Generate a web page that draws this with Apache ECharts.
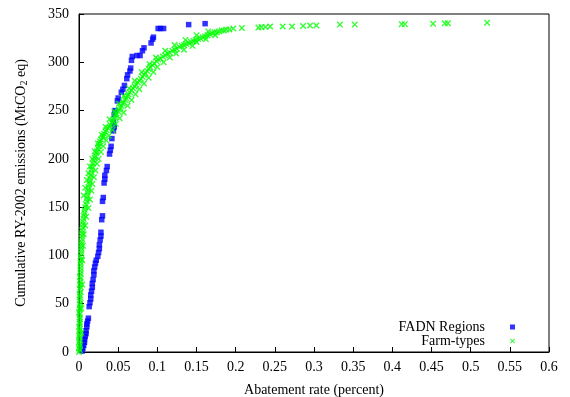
<!DOCTYPE html>
<html>
<head>
<meta charset="utf-8">
<script src="https://cdn.jsdelivr.net/npm/echarts@6/dist/echarts.min.js"></script>
<style>
  html, body { margin: 0; padding: 0; background: #fff; }
  #container { width: 570px; height: 397px; }
</style>
</head>
<body>
<div id="container"></div>
<script>
var dom = document.getElementById('container');
var myChart = echarts.init(dom, null, { renderer: 'canvas' });

// x tick labels (abatement rate) and y ticks
var xTicks = [0, 0.05, 0.1, 0.15, 0.2, 0.25, 0.3, 0.35, 0.4, 0.45, 0.5, 0.55, 0.6];
var yTicks = [0, 50, 100, 150, 200, 250, 300, 350];

// FADN Regions: [rate, cumulative emissions]
var fadnRegions = [
  [0.004, 1], [0.005, 4], [0.006, 7], [0.007, 10], [0.007, 13], [0.008, 16], [0.009, 19],
  [0.009, 22], [0.010, 26], [0.010, 29], [0.011, 32], [0.012, 35],
  [0.013, 47], [0.014, 51], [0.015, 55], [0.015, 59], [0.016, 63], [0.017, 67], [0.017, 71],
  [0.018, 75], [0.019, 80], [0.019, 84], [0.020, 88], [0.021, 92], [0.022, 95], [0.024, 99],
  [0.025, 103], [0.026, 107], [0.026, 111], [0.027, 116], [0.028, 120], [0.028, 124],
  [0.029, 137], [0.030, 141], [0.030, 156], [0.031, 160], [0.032, 175], [0.033, 179],
  [0.033, 183], [0.035, 188], [0.036, 192], [0.039, 205], [0.040, 209], [0.041, 213],
  [0.042, 221], [0.044, 229], [0.045, 233], [0.044, 238], [0.045, 246], [0.046, 250],
  [0.049, 260], [0.050, 263], [0.054, 269], [0.056, 272], [0.058, 276], [0.061, 283],
  [0.062, 287], [0.065, 291], [0.066, 294], [0.067, 302], [0.068, 306], [0.074, 307],
  [0.078, 307], [0.081, 312], [0.083, 315], [0.092, 320], [0.094, 324], [0.095, 326],
  [0.101, 335], [0.104, 335], [0.108, 335], [0.140, 339], [0.161, 340]
];

// Farm-types: [rate, cumulative emissions], main run of the curve
var farmTypes = [
  [0.000, 0], [0.001, 2], [0.000, 4], [0.001, 6], [0.001, 8], [0.000, 10], [0.001, 12],
  [0.001, 15], [0.000, 17], [0.001, 19], [0.001, 22], [0.001, 24], [0.000, 26], [0.001, 29],
  [0.001, 31], [0.001, 34], [0.001, 36], [0.001, 39], [0.000, 41], [0.001, 44], [0.001, 46],
  [0.001, 49], [0.002, 51], [0.001, 54], [0.001, 57], [0.001, 59], [0.002, 62], [0.001, 65],
  [0.002, 67], [0.001, 70], [0.002, 73], [0.002, 76], [0.001, 78], [0.002, 81], [0.002, 84],
  [0.002, 87], [0.002, 90], [0.002, 93], [0.003, 96], [0.002, 99], [0.003, 102], [0.003, 105],
  [0.003, 108], [0.003, 111], [0.003, 114], [0.004, 117], [0.004, 120], [0.004, 123],
  [0.004, 126], [0.005, 129], [0.005, 132], [0.005, 135], [0.006, 138], [0.006, 141],
  [0.007, 144], [0.007, 147], [0.008, 150], [0.009, 153], [0.010, 156], [0.010, 159],
  [0.011, 162], [0.011, 165], [0.012, 168], [0.012, 171], [0.013, 174], [0.014, 177],
  [0.014, 180], [0.015, 183], [0.016, 186], [0.016, 189], [0.017, 192], [0.018, 195],
  [0.019, 198], [0.020, 201],
  [0.021, 203], [0.022, 206], [0.023, 208], [0.024, 211], [0.025, 213], [0.026, 216],
  [0.027, 218], [0.028, 220], [0.030, 222], [0.031, 224], [0.032, 226], [0.034, 228],
  [0.035, 230], [0.037, 232], [0.039, 233], [0.040, 235], [0.042, 237], [0.043, 239],
  [0.044, 241], [0.046, 243], [0.047, 245], [0.048, 247], [0.050, 249], [0.051, 251],
  [0.053, 253], [0.054, 255], [0.056, 257], [0.057, 259], [0.059, 261], [0.060, 263],
  [0.062, 265], [0.063, 267], [0.065, 269], [0.067, 271], [0.069, 273], [0.071, 275],
  [0.073, 277], [0.075, 279], [0.077, 281], [0.079, 283], [0.081, 285], [0.083, 287],
  [0.085, 289], [0.087, 291], [0.089, 293], [0.091, 295], [0.094, 297], [0.096, 299],
  [0.099, 301], [0.101, 303],
  [0.104, 304], [0.107, 306], [0.110, 307], [0.113, 309], [0.116, 310], [0.119, 312],
  [0.122, 313], [0.125, 314], [0.128, 316], [0.131, 317], [0.134, 318], [0.137, 319],
  [0.140, 320], [0.143, 321], [0.146, 322], [0.149, 323], [0.152, 324], [0.155, 325],
  [0.158, 326], [0.161, 327], [0.164, 328], [0.167, 329], [0.170, 330], [0.173, 331],
  [0.176, 331], [0.179, 332], [0.182, 333], [0.185, 333], [0.188, 334], [0.192, 334],
  [0.197, 335], [0.208, 335.5],
  [0.229, 336], [0.233, 336.5], [0.238, 336.5], [0.244, 337], [0.260, 337], [0.272, 337],
  [0.286, 337.5], [0.295, 338], [0.303, 338], [0.333, 339], [0.352, 339], [0.412, 339.5],
  [0.416, 339.5], [0.452, 340], [0.467, 340.5], [0.471, 340.5], [0.521, 341]
];

// Farm-types: scattered points along the edges of the dense band
var farmTypesSpread = [
  [0.003, 20], [0.003, 45], [0.004, 70], [0.004, 95], [0.005, 110], [0.006, 122],
  [0.008, 131], [0.009, 140], [0.012, 149], [0.014, 158], [0.016, 167], [0.017, 174],
  [0.019, 181], [0.021, 188], [0.023, 195], [0.025, 200], [0.028, 207], [0.031, 213],
  [0.035, 219], [0.038, 224], [0.043, 230], [0.047, 236], [0.052, 242], [0.057, 248],
  [0.062, 255], [0.067, 261], [0.072, 267], [0.077, 272], [0.083, 278], [0.089, 284],
  [0.095, 290], [0.100, 295], [0.108, 300], [0.116, 305], [0.124, 309], [0.134, 313],
  [0.145, 317], [0.150, 321], [0.162, 324], [0.174, 328],
  [0.006, 162], [0.008, 170], [0.010, 178], [0.012, 185], [0.014, 192], [0.017, 200],
  [0.020, 208], [0.024, 216], [0.029, 225], [0.034, 233], [0.039, 241], [0.045, 249],
  [0.051, 257], [0.057, 265], [0.064, 273], [0.071, 281], [0.080, 290], [0.090, 298],
  [0.098, 305], [0.110, 312], [0.122, 318], [0.136, 323], [0.150, 328], [0.165, 332]
];

var squareIcon = 'path://M0,0L10,0L10,10L0,10Z';
var crossIcon = 'path://M0,1.5L1.5,0L5,3.5L8.5,0L10,1.5L6.5,5L10,8.5L8.5,10L5,6.5L1.5,10L0,8.5L3.5,5Z';
var serif = '"Liberation Serif", "DejaVu Serif", serif';

var option = {
  animation: false,
  textStyle: { fontFamily: serif },
  grid: {
    left: 79,
    right: 21,
    top: 14,
    bottom: 45,
    show: true,
    borderColor: '#000',
    borderWidth: 1,
    containLabel: false,
    outerBoundsMode: 'none'
  },
  legend: {
    orient: 'vertical',
    right: 50,
    top: 315,
    align: 'right',
    itemWidth: 45,
    itemHeight: 5,
    itemGap: 0,
    symbolKeepAspect: true,
    textStyle: { fontFamily: serif, fontSize: 14, color: '#000' },
    data: [
      { name: 'FADN Regions', icon: squareIcon },
      { name: 'Farm-types', icon: crossIcon }
    ]
  },
  xAxis: {
    type: 'value',
    min: xTicks[0],
    max: xTicks[xTicks.length - 1],
    interval: 0.05,
    name: 'Abatement rate (percent)',
    nameLocation: 'middle',
    nameGap: 31,
    nameTextStyle: { fontFamily: serif, fontSize: 14, color: '#000' },
    axisLine: { show: true, lineStyle: { color: '#000', width: 1 } },
    axisTick: { show: true, inside: true, length: 5, lineStyle: { color: '#000' } },
    axisLabel: { fontFamily: serif, fontSize: 14, color: '#000', margin: 8 },
    splitLine: { show: false }
  },
  yAxis: {
    type: 'value',
    min: yTicks[0],
    max: yTicks[yTicks.length - 1],
    interval: 50,
    name: 'Cumulative RY-2002 emissions (MtCO{sub|2} eq)',
    nameLocation: 'middle',
    nameGap: 50,
    nameTextStyle: {
      fontFamily: serif, fontSize: 14, color: '#000',
      rich: { sub: { fontFamily: serif, fontSize: 10, verticalAlign: 'bottom', padding: [6, 0, 0, 0] } }
    },
    axisLine: { show: true, lineStyle: { color: '#000', width: 1 } },
    axisTick: { show: true, inside: true, length: 5, lineStyle: { color: '#000' } },
    axisLabel: { fontFamily: serif, fontSize: 14, color: '#000', margin: 10 },
    splitLine: { show: false }
  },
  series: [
    {
      name: 'FADN Regions',
      type: 'scatter',
      data: fadnRegions,
      symbol: squareIcon,
      symbolSize: 5.5,
      itemStyle: { color: '#0000ff' }
    },
    {
      name: 'Farm-types',
      type: 'scatter',
      data: farmTypes.concat(farmTypesSpread),
      symbol: crossIcon,
      symbolSize: 6.5,
      itemStyle: { color: '#00ff00' }
    }
  ]
};

myChart.setOption(option);
window.addEventListener('resize', myChart.resize);
</script>
</body>
</html>
